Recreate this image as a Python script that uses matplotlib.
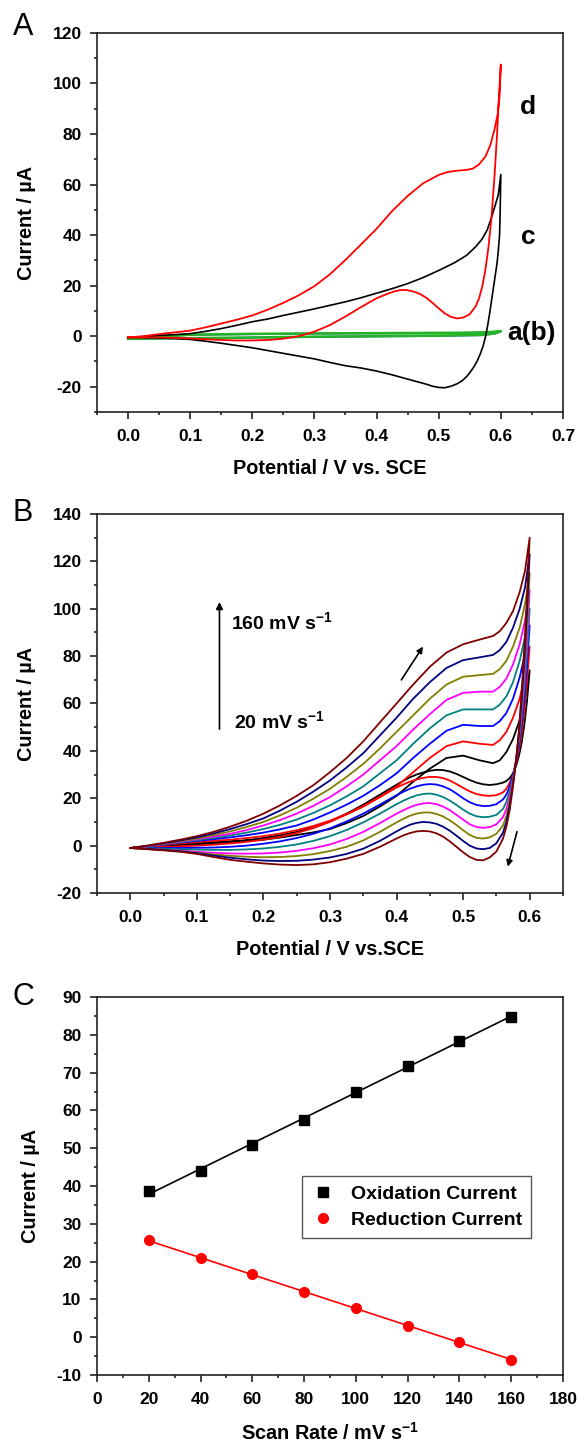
import matplotlib
matplotlib.use('Agg')
import matplotlib.pyplot as plt
import numpy as np
from matplotlib.ticker import MultipleLocator

plt.rcParams['font.family'] = ['Liberation Sans', 'DejaVu Sans']
plt.rcParams['font.weight'] = 'bold'
plt.rcParams['axes.unicode_minus'] = False
plt.rcParams['mathtext.fontset'] = 'custom'
plt.rcParams['mathtext.rm'] = 'Liberation Sans:bold'
plt.rcParams['mathtext.bf'] = 'Liberation Sans:bold'
plt.rcParams['mathtext.default'] = 'bf'

# ---- panel A: CVs of the four electrodes ----
d_fwd_x = [0, 0.025, 0.05, 0.075, 0.1, 0.125, 0.15, 0.175, 0.2, 0.225, 0.25, 0.275, 0.3, 0.325, 0.35, 0.375,
           0.4, 0.425, 0.45, 0.475, 0.5, 0.515, 0.53, 0.545, 0.555, 0.565, 0.575, 0.583, 0.59, 0.595, 0.598, 0.6]
d_fwd_y = [-0.5, 0, 0.8, 1.5, 2.2, 3.5, 5, 6.5, 8.2, 10.5, 13.2, 16.2, 19.8, 24.5, 30.2, 36.3,
           42.5, 49.5, 55.5, 60.5, 63.8, 65, 65.5, 65.8, 66.3, 68, 71, 75.5, 82, 88, 95, 107.5]
d_rev_x = [0.6, 0.597, 0.594, 0.59, 0.585, 0.58, 0.575, 0.57, 0.565, 0.56, 0.55, 0.54, 0.53, 0.52, 0.51, 0.5,
           0.49, 0.48, 0.47, 0.46, 0.45, 0.44, 0.43, 0.42, 0.41, 0.4, 0.375, 0.35, 0.325, 0.3, 0.275, 0.25,
           0.225, 0.2, 0.175, 0.15, 0.125, 0.1, 0.075, 0.05, 0.025, 0]
d_rev_y = [107.5, 95, 80, 64, 47, 35, 26, 19.5, 15, 12, 8.7, 7.4, 7, 7.6, 9, 11,
           13.2, 15.2, 16.7, 17.6, 18.2, 18.3, 17.8, 17, 16, 15, 11.5, 7.8, 4.4, 1.8, 0, -1,
           -1.5, -1.7, -1.7, -1.5, -1.2, -0.9, -0.7, -0.5, -0.5, -0.5]

c_fwd_x = [0, 0.025, 0.05, 0.075, 0.1, 0.125, 0.15, 0.175, 0.2, 0.225, 0.25, 0.275, 0.3, 0.325, 0.35, 0.375,
           0.4, 0.425, 0.45, 0.475, 0.5, 0.525, 0.545, 0.56, 0.57, 0.578, 0.585, 0.59, 0.596, 0.6]
c_fwd_y = [-0.5, -0.2, 0.3, 0.6, 1, 1.9, 3, 4.3, 5.7, 6.8, 8.2, 9.5, 10.8, 12.2, 13.6, 15.2,
           17, 18.8, 20.8, 23.2, 26, 29, 32, 35.5, 38.5, 42, 47, 51, 56, 64]
c_rev_x = [0.6, 0.599, 0.598, 0.596, 0.594, 0.591, 0.588, 0.585, 0.582, 0.579, 0.576, 0.572, 0.567, 0.562,
           0.557, 0.55, 0.545, 0.538, 0.53, 0.52, 0.51, 0.5, 0.49, 0.48, 0.465, 0.45, 0.425, 0.4, 0.375,
           0.35, 0.325, 0.3, 0.275, 0.25, 0.225, 0.2, 0.175, 0.15, 0.125, 0.1, 0.075, 0.05, 0.025, 0]
c_rev_y = [64, 50, 40, 34, 29, 24, 19, 14, 9, 4.5, 0.5, -3.5, -7, -9.8,
           -12, -14.5, -16, -17.6, -18.8, -19.8, -20.4, -20.3, -19.8, -19, -18, -17, -15.3, -13.8, -12.6,
           -11.7, -10.4, -9, -7.9, -6.8, -5.7, -4.6, -3.7, -2.8, -2, -1.3, -0.9, -0.7, -0.6, -0.5]

ab_x = [0, 0.1, 0.2, 0.3, 0.4, 0.5, 0.55, 0.58, 0.6, 0.59, 0.57, 0.5, 0.4, 0.3, 0.2, 0.1, 0]
a_y = [-1, 0.6, 0.9, 1.1, 1.2, 1.3, 1.4, 1.6, 2, 1.1, 0.5, 0.2, 0, -0.2, -0.5, -0.8, -1]
b_y = [-1, 0.5, 0.8, 1.0, 1.1, 1.2, 1.3, 1.5, 1.8, 1.0, 0.4, 0.1, -0.1, -0.3, -0.6, -0.9, -1]

# ---- panel B: CVs at scan rates 20..160 mV/s ----
rates = [20, 40, 60, 80, 100, 120, 140, 160]
b_colors = ['#000000', '#ff0000', '#0000ff', '#008080', '#ff00ff', '#808000', '#000080', '#800000']

fwd_x = [0, 0.025, 0.05, 0.075, 0.1, 0.125, 0.15, 0.175, 0.2, 0.225, 0.25, 0.275, 0.3, 0.325, 0.35,
         0.375, 0.4, 0.425, 0.45, 0.475, 0.5, 0.525, 0.545, 0.555, 0.565, 0.575, 0.585, 0.593, 0.6]
fwd_y = {
    20:  [-1, -0.5, 0, 0.5, 1, 1.4, 1.8, 2.1, 2.5, 3.4, 4.5, 5.6, 7, 9.5, 12.5,
          16.5, 21, 27, 32.5, 37, 38, 36, 34.8, 36, 39.5, 45, 53, 62, 74],
    40:  [-1, -0.4, 0.3, 0.9, 1.5, 2, 2.5, 3.2, 4, 5.1, 6.5, 8.3, 10.5, 13.3, 16.5,
          20.5, 25, 31, 37, 42, 44, 43, 42.5, 44.5, 48, 54, 62, 72, 84],
    60:  [-1, -0.4, 0.5, 1.3, 2, 2.7, 3.5, 4.4, 5.5, 6.9, 8.5, 11, 14, 17.3, 21,
          25.5, 30.5, 37, 43, 48.5, 51, 50.5, 50.5, 52.5, 56, 62, 71, 81, 93],
    80:  [-1, -0.3, 0.6, 1.5, 2.3, 3.3, 4.3, 5.5, 7, 8.8, 11, 13.8, 17, 20.8, 25,
          30.5, 36, 43, 49.5, 55, 57.5, 57.5, 57.5, 59.5, 63, 69, 78, 88, 100],
    100: [-1, -0.3, 0.7, 1.7, 2.7, 3.8, 5, 6.6, 8.5, 10.8, 13.5, 16.8, 20.5, 25, 30,
          36, 42, 49, 55.5, 61.5, 64.5, 65, 65, 67, 70.5, 76.5, 85, 95, 108],
    120: [-1, -0.2, 0.8, 1.9, 3, 4.4, 6, 7.9, 10, 12.8, 16, 19.8, 24, 29, 34.5,
          41, 48, 55, 62, 68, 71.3, 72, 72.5, 74.5, 78, 84, 92, 102, 115],
    140: [-1, -0.1, 1, 2.2, 3.5, 5.1, 7, 9.1, 11.5, 14.8, 18.5, 22.8, 27.5, 33, 39,
          46.5, 54, 62, 69, 75, 78.3, 79.5, 80.5, 82.5, 86, 92, 100, 109, 123],
    160: [-1, 0, 1.2, 2.5, 4, 5.8, 8, 10.5, 13.5, 17, 21, 25.5, 31, 37, 44,
          52, 60, 68, 75.5, 81.5, 85, 87, 88.5, 90.5, 94, 99, 107, 116, 130],
}
rev_x = [0.6, 0.596, 0.592, 0.588, 0.584, 0.58, 0.575, 0.57, 0.565, 0.56, 0.55, 0.54, 0.53, 0.52, 0.51,
         0.5, 0.49, 0.48, 0.47, 0.46, 0.45, 0.44, 0.43, 0.42, 0.41, 0.4, 0.375, 0.35, 0.325, 0.3,
         0.275, 0.25, 0.225, 0.2, 0.175, 0.15, 0.125, 0.1, 0.075, 0.05, 0.025, 0]
rev_y = {
    20:  [74, 61, 51, 43.5, 38, 34, 30.5, 28.5, 27.3, 26.6, 25.9, 25.6, 25.9, 26.6, 27.7,
          29, 30.3, 31.3, 31.9, 32, 31.6, 30.9, 30, 28.8, 27.3, 25.7, 21.5, 17.3, 13.5, 10.3,
          7.7, 5.8, 4.3, 3.2, 2.3, 1.6, 1, 0.5, 0, -0.4, -0.7, -1],
    40:  [84, 69, 57, 47.5, 40.5, 35, 30, 26.5, 24, 22.5, 21.3, 21, 21.2, 21.8, 22.9,
          24.4, 26, 27.5, 28.5, 29, 29, 28.6, 27.9, 27, 25.8, 24.5, 20.6, 16.7, 13.2, 10,
          7.4, 5.3, 3.7, 2.5, 1.6, 0.9, 0.4, 0, -0.3, -0.6, -0.8, -1],
    60:  [93, 76, 62, 51, 42.5, 36, 30, 25, 21.5, 19.5, 17.5, 16.8, 16.7, 17.2, 18.3,
          20, 22, 23.8, 25, 25.8, 26, 25.7, 25, 24, 22.7, 21.3, 17.3, 13.5, 10.2, 7.3,
          5, 3.2, 1.8, 0.8, 0, -0.5, -0.8, -0.9, -1, -1, -1, -1],
    80:  [100, 81, 66, 54, 44, 36.5, 29, 23, 18.5, 15.5, 13, 12.2, 12, 12.4, 13.5,
          15.2, 17.2, 19, 20.5, 21.5, 22, 21.8, 21.2, 20.2, 18.9, 17.5, 13.5, 9.8, 6.6, 4,
          2, 0.5, -0.5, -1.2, -1.6, -1.8, -1.8, -1.7, -1.5, -1.3, -1.1, -1],
    100: [108, 87, 71, 57, 46, 37, 28, 21, 15.5, 12, 9, 7.8, 7.5, 7.9, 9,
          11, 13, 15, 16.5, 17.5, 18, 17.8, 17.2, 16.2, 14.9, 13.5, 9.5, 5.8, 2.8, 0.5,
          -1.1, -2.2, -2.9, -3.3, -3.4, -3.3, -3, -2.6, -2.1, -1.7, -1.3, -1],
    120: [115, 93, 75, 60, 47, 37, 27, 19, 12.5, 8.5, 5, 3.5, 3, 3.3, 4.5,
          6.5, 8.7, 10.7, 12.3, 13.4, 14, 14, 13.5, 12.6, 11.3, 9.8, 5.8, 2.2, -0.5, -2.3,
          -3.6, -4.4, -4.8, -4.9, -4.7, -4.3, -3.7, -3, -2.3, -1.8, -1.4, -1],
    140: [123, 99, 79, 62, 48, 37, 26, 17, 10, 5.5, 1, -1, -1.5, -1.2, 0,
          2, 4.2, 6.3, 8, 9.2, 9.8, 10, 9.6, 8.8, 7.5, 6, 2, -1.3, -3.5, -5,
          -5.9, -6.4, -6.5, -6.3, -5.8, -5.1, -4.2, -3.2, -2.4, -1.8, -1.4, -1],
    160: [130, 105, 84, 65, 49, 37, 25, 15, 8, 3, -2.5, -5, -6.2, -6, -4.8,
          -2.8, -0.5, 1.8, 3.8, 5.2, 6, 6.2, 6, 5.3, 4.3, 3, -0.5, -3.5, -5.5, -7,
          -7.9, -8.2, -8, -7.5, -6.8, -6, -4.8, -3.5, -2.6, -2, -1.5, -1],
}

# ---- panel C: peak currents vs scan rate ----
scan_rate = [20, 40, 60, 80, 100, 120, 140, 160]
ox_current = [38.7, 44.0, 50.8, 57.6, 64.9, 71.7, 78.5, 84.8]
red_current = [25.6, 20.9, 16.7, 12.0, 7.7, 3.0, -1.3, -5.9]


def style_axes(ax):
    for s in ax.spines.values():
        s.set_linewidth(1.2)
        s.set_color('#222222')
    ax.tick_params(which='both', direction='out', top=False, right=False, width=1.2, color='#222222')
    ax.tick_params(which='major', length=5, labelsize=12.5, pad=6)
    ax.tick_params(which='minor', length=2.5)
    ax.tick_params(axis='x', which='major', pad=7)
    for lab in ax.get_xticklabels() + ax.get_yticklabels():
        lab.set_fontweight('bold')


fig = plt.figure(figsize=(5.8, 14.45), dpi=100)
axA = fig.add_axes([0.1672, 0.7149, 0.8034, 0.2623])
axB = fig.add_axes([0.1672, 0.3820, 0.8034, 0.2623])
axC = fig.add_axes([0.1672, 0.0484, 0.8034, 0.2616])

# panel A
axA.plot(ab_x, b_y, color='#3050d0', lw=1.4)
axA.plot(ab_x, a_y, color='#22b422', lw=1.8)
axA.plot(c_fwd_x + c_rev_x, c_fwd_y + c_rev_y, color='black', lw=1.2)
axA.plot(d_fwd_x + d_rev_x, d_fwd_y + d_rev_y, color='#ff0000', lw=1.3)
axA.set_xlim(-0.05, 0.7)
axA.set_ylim(-30, 120)
axA.set_xticks(np.arange(0, 0.71, 0.1))
axA.set_xticklabels(['%.1f' % v for v in np.arange(0, 0.71, 0.1)])
axA.xaxis.set_minor_locator(MultipleLocator(0.05))
axA.set_yticks(np.arange(-20, 121, 20))
axA.yaxis.set_minor_locator(MultipleLocator(10))
axA.set_xlabel('Potential / V vs. SCE', fontsize=14.3, fontweight='bold', labelpad=11)
axA.set_ylabel('Current / µA', fontsize=14.3, fontweight='bold', labelpad=12)
axA.text(0.644, 90.5, 'd', fontsize=19, fontweight='bold', ha='center', va='center')
axA.text(0.645, 39.4, 'c', fontsize=19, fontweight='bold', ha='center', va='center')
axA.text(0.611, 1.3, 'a(b)', fontsize=19, fontweight='bold', ha='left', va='center')
style_axes(axA)

# panel B
for r, col in zip(rates, b_colors):
    axB.plot(fwd_x + rev_x, fwd_y[r] + rev_y[r], color=col, lw=1.3)
axB.set_xlim(-0.05, 0.65)
axB.set_ylim(-20, 140)
axB.set_xticks(np.arange(0, 0.61, 0.1))
axB.set_xticklabels(['%.1f' % v for v in np.arange(0, 0.61, 0.1)])
axB.xaxis.set_minor_locator(MultipleLocator(0.05))
axB.set_yticks(np.arange(-20, 141, 20))
axB.yaxis.set_minor_locator(MultipleLocator(10))
axB.set_xlabel('Potential / V vs.SCE', fontsize=14.3, fontweight='bold', labelpad=11)
axB.set_ylabel('Current / µA', fontsize=14.3, fontweight='bold', labelpad=12)
axB.annotate('', xy=(0.134, 104), xytext=(0.134, 48),
             arrowprops=dict(arrowstyle='-|>', color='black', lw=1.2, mutation_scale=10))
axB.text(0.152, 94.5, '160 mV s$^{-1}$', fontsize=14, fontweight='bold', va='center')
axB.text(0.156, 52.5, '20 mV s$^{-1}$', fontsize=14, fontweight='bold', va='center')
axB.annotate('', xy=(0.442, 85), xytext=(0.405, 69),
             arrowprops=dict(arrowstyle='-|>', color='black', lw=1.2, mutation_scale=9))
axB.annotate('', xy=(0.566, -10), xytext=(0.582, 7),
             arrowprops=dict(arrowstyle='-|>', color='black', lw=1.2, mutation_scale=9))
style_axes(axB)

# panel C
k_ox, b_ox = np.polyfit(scan_rate, ox_current, 1)
k_red, b_red = np.polyfit(scan_rate, red_current, 1)
sr = np.array([scan_rate[0], scan_rate[-1]])
axC.plot(sr, k_ox * sr + b_ox, color='black', lw=1.2)
axC.plot(sr, k_red * sr + b_red, color='#ff0000', lw=1.2)
axC.plot(scan_rate, ox_current, 's', color='black', ms=6.5, label='Oxidation Current')
axC.plot(scan_rate, red_current, 'o', color='#ff0000', ms=7, label='Reduction Current')
axC.set_xlim(0, 180)
axC.set_ylim(-10, 90)
axC.set_xticks(np.arange(0, 181, 20))
axC.xaxis.set_minor_locator(MultipleLocator(10))
axC.set_yticks(np.arange(-10, 91, 10))
axC.yaxis.set_minor_locator(MultipleLocator(5))
axC.set_xlabel('Scan Rate / mV s$^{-1}$', fontsize=14.3, fontweight='bold', labelpad=11)
axC.set_ylabel('Current / µA', fontsize=14.3, fontweight='bold', labelpad=12)
leg = axC.legend(loc='upper left', bbox_to_anchor=(0.44, 0.527), borderaxespad=0, fancybox=False,
                 edgecolor='#555555', framealpha=1, handlelength=1.2, handletextpad=0.8,
                 borderpad=0.5, labelspacing=0.4, prop={'size': 14, 'weight': 'bold'})
leg.get_frame().set_linewidth(1.0)
style_axes(axC)

# panel letters
fig.text(0.022, 1 - 27 / 1445, 'A', fontsize=22, fontweight='normal', va='center', ha='left')
fig.text(0.022, 1 - 513 / 1445, 'B', fontsize=22, fontweight='normal', va='center', ha='left')
fig.text(0.022, 1 - 997 / 1445, 'C', fontsize=22, fontweight='normal', va='center', ha='left')

fig.savefig('out.png', dpi=100)
